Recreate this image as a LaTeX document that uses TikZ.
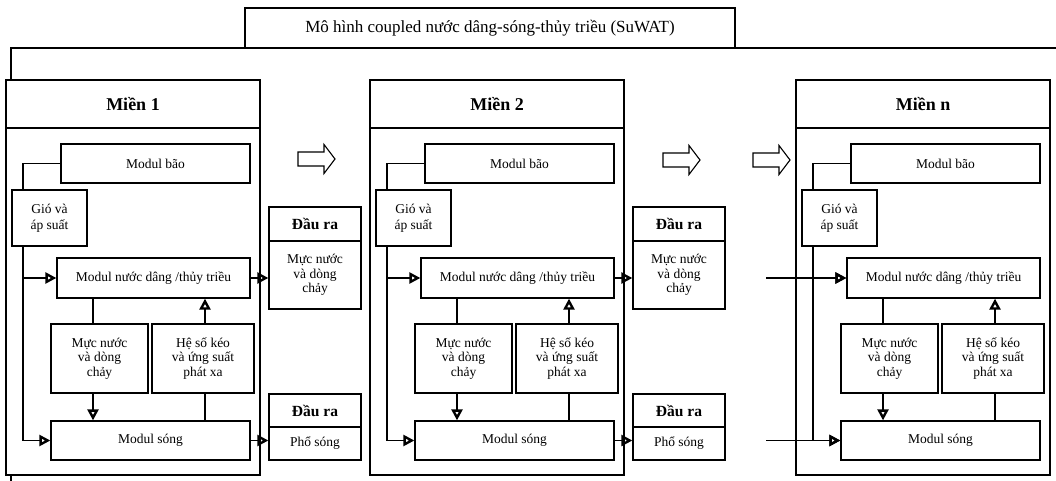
\documentclass[tikz,border=0pt]{standalone}
\usepackage{fontspec}
\setmainfont{Liberation Serif}
\usetikzlibrary{arrows.meta,calc}

\tikzset{
  box/.style={draw, line width=1.3pt, fill=white, inner sep=1pt, align=center,
    font=\fontsize{13.5}{14.5}\selectfont},
  boldbox/.style={box, font=\fontsize{15.5}{17}\selectfont\bfseries},
  lnk/.style={line width=1.3pt},
  arr/.style={line width=1.3pt, -{Triangle[open,length=11pt,width=11pt,line width=2.4pt]}},
  bigarr/.style={draw, line width=1.1pt, fill=white},
}

\newcommand{\mien}[3]{%
\begin{scope}[xshift=#1]
  \node[box, minimum width=254, minimum height=48, font=\fontsize{18}{20}\selectfont\bfseries] (#2head) at (133,104) {Miền #3};
  \node[box, minimum width=254, minimum height=347] (#2body) at (133,301.5) {};
  \coordinate (#2bus) at (23,0);
  \coordinate (#2mx) at (93,0);
  \coordinate (#2hx) at (205,0);
  \node[box, minimum width=189, minimum height=39] (#2bao) at (155.5,163.5) {Modul bão};
  \node[box, minimum width=75, minimum height=56] (#2gio) at (49.5,218) {Gió và\\[1.5pt]áp suất};
  \node[box, minimum width=193, minimum height=40] (#2nd) at (153.5,278) {Modul nước dâng /thủy triều};
  \node[box, minimum width=97, minimum height=69] (#2muc) at (99.5,358.5) {Mực nước\\và dòng\\chảy};
  \node[box, minimum width=102, minimum height=69] (#2he) at (203,358.5) {Hệ số kéo\\và ứng suất\\phát xa};
  \node[box, minimum width=199, minimum height=39] (#2song) at (150.5,440.5) {Modul sóng};
  \draw[lnk] (#2bao.west) -| (#2bus |- #2gio.north);
  \draw[lnk] (#2bus |- #2gio.south) -- (#2bus |- #2song.west);
  \draw[arr] (#2bus |- #2nd.west) -- (#2nd.west);
  \draw[arr] (#2bus |- #2song.west) -- (#2song.west);
  \draw[lnk] (#2mx |- #2nd.south) -- (#2mx |- #2muc.north);
  \draw[arr] (#2mx |- #2muc.south) -- (#2mx |- #2song.north);
  \draw[arr] (#2hx |- #2he.north) -- (#2hx |- #2nd.south);
  \draw[lnk] (#2hx |- #2song.north) -- (#2hx |- #2he.south);
\end{scope}}

\newcommand{\daura}[2]{%
\begin{scope}[xshift=#1]
  \node[boldbox, minimum width=92, minimum height=34] (#2oh1) at (315,224) {Đầu ra};
  \node[box, minimum width=92, minimum height=68] (#2ob1) at (315,275) {Mực nước\\và dòng\\chảy};
  \node[boldbox, minimum width=92, minimum height=33] (#2oh2) at (315,410.5) {Đầu ra};
  \node[box, minimum width=92, minimum height=33] (#2ob2) at (315,443.5) {Phổ sóng};
\end{scope}
\draw[arr] (#2nd.east) -- (#2nd.east -| #2ob1.west);
\draw[arr] (#2song.east) -- (#2song.east -| #2ob2.west);}

\newcommand{\blockarr}[2]{%
\draw[bigarr] (#1,#2-7) -- ++(26,0) -- ++(0,-7.5) -- ++(11,14.5) -- ++(-11,14.5) -- ++(0,-7.5) -- ++(-26,0) -- cycle;}

\begin{document}
\begin{tikzpicture}[x=1pt,y=-1pt]
  \useasboundingbox (0,0) rectangle (1056,481);
  % outer frame
  \draw[lnk] (11,481) -- (11,48) -- (1056,48);
  \node[box, minimum width=490, minimum height=40, font=\fontsize{17}{19}\selectfont] (title) at (490,28)
    {Mô hình coupled nước dâng-sóng-thủy triều (SuWAT)};
  % domains
  \mien{0}{a}{1}
  \mien{364}{b}{2}
  \mien{790}{n}{n}
  \daura{0}{a}
  \daura{364}{b}
  % inputs into domain n
  \coordinate (inA) at (766,0);
  \draw[arr] (inA |- nnd.west) -- (nnd.west);
  \draw[arr] (inA |- nsong.west) -- (nsong.west);
  % block arrows
  \blockarr{298}{159}
  \blockarr{663}{160}
  \blockarr{753}{160}
\end{tikzpicture}
\end{document}
